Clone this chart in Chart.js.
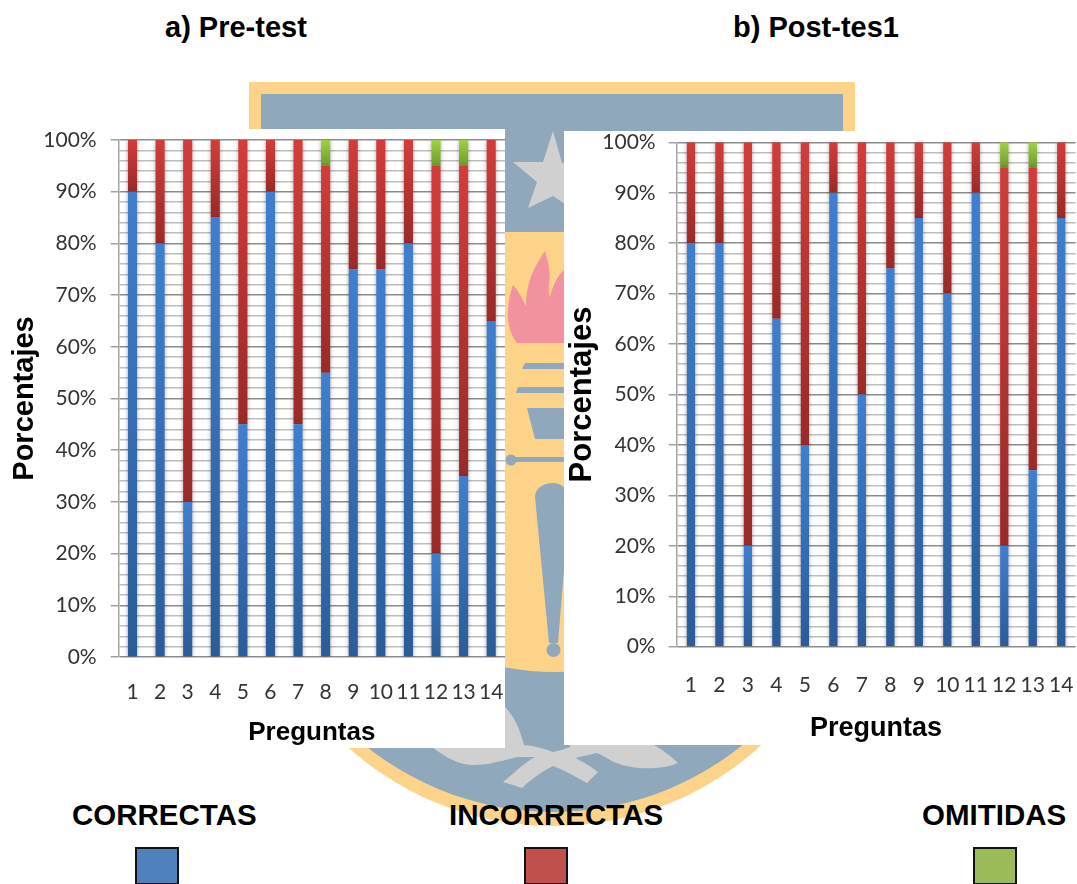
<!DOCTYPE html>
<html>
<head>
<meta charset="utf-8">
<script src="https://cdn.jsdelivr.net/npm/chart.js@4/dist/chart.umd.min.js"></script>
<style>
  html, body { margin: 0; padding: 0; background: #fff; }
  #page { position: relative; width: 1077px; height: 884px; overflow: hidden; }
  #crest { position: absolute; left: 0; top: 0; }
  .panel { position: absolute; background: #fff; }
  .panel canvas { display: block; filter: blur(0.55px); }
  .head { position: absolute; font: bold 29px "Liberation Sans", Arial, sans-serif; color: #000; white-space: nowrap; line-height: 30px; }
  .key { position: absolute; font: bold 29.5px "Liberation Sans", Arial, sans-serif; color: #000; white-space: nowrap; line-height: 32px; }
  .swatch { position: absolute; top: 847px; width: 40px; height: 34px; border: 2px solid #111; }
</style>
</head>
<body>
<div id="page">
  <!-- University crest sitting behind the two charts -->
  <svg id="crest" width="1077" height="884" viewBox="0 0 1077 884">
    <rect x="249" y="82" width="606" height="160" fill="#fdd38a"/>
    <circle cx="553.5" cy="518" r="308" fill="#fdd38a"/>
    <circle cx="553.5" cy="512" r="300" fill="#8fa8bc"/>
    <rect x="300" y="232" width="500" height="190" fill="#fdd38a"/>
    <circle cx="553.5" cy="422" r="250" fill="#fdd38a"/>
    <rect x="261" y="94" width="582" height="138" fill="#8fa8bc"/>
    <path d="M553 131 L562 163 L600 163 L570 184 L580 214 L553 196 L528 208 L537 182 L513 162 L543 162 Z" fill="#d0d0d0"/>
    <path d="M545 251 C548 262 551 272 549 285 C548 290 549 294 550 297 C553 285 558 274 566 268 L570 343 L517 343 C510 335 507 320 508 310 C509 298 511 290 513 285 C518 290 522 298 526 306 C526 285 532 270 545 251 Z" fill="#f2929e"/>
    <path d="M525 363 L570 363 L570 369 L522 369 Z M518 387 L570 387 L570 393 L516 393 Z M527 408 L570 408 L570 439 L535 439 Z" fill="#8fa8bc"/>
    <rect x="511" y="457" width="60" height="5" fill="#8fa8bc"/>
    <circle cx="511" cy="460" r="5.5" fill="#8fa8bc"/>
    <path d="M535 497 C535 488 544 483 553 483 C560 483 568 488 570 497 L558 643 L549 643 Z" fill="#8fa8bc"/>
    <circle cx="553.5" cy="650" r="7" fill="#8fa8bc"/>
    <path d="M430 745 C445 758 460 765 473 765 C490 765 505 760 517 757 L535 757 C525 762 512 775 503 782 L522 788 C532 778 545 770 553 766 C562 769 578 778 587 783 L598 772 C590 766 582 761 575 758 L597 753 C605 756 612 762 617 763 C630 769 660 771 678 763 C670 755 660 748 650 743 L570 743 L570 747 C565 749 558 751 553 752 C545 749 535 746 524 745 C520 730 515 717 505 707 L400 707 Z" fill="#d0d0d0"/>
  </svg>

  <div class="panel" style="left:0;top:129px;width:505px;height:619px"><canvas id="preChart" width="505" height="619"></canvas></div>
  <div class="panel" style="left:564px;top:131px;width:513px;height:614px"><canvas id="postChart" width="513" height="614"></canvas></div>

  <div class="head" style="left:165px;top:12px">a) Pre-test</div>
  <div class="head" style="left:733px;top:12px">b) Post-tes1</div>

  <div class="key" style="left:72px;top:799px">CORRECTAS</div>
  <div class="key" style="left:449px;top:799px">INCORRECTAS</div>
  <div class="key" style="left:922px;top:799px">OMITIDAS</div>
  <div class="swatch" style="left:135px;background:#4f81bd"></div>
  <div class="swatch" style="left:524px;background:#c0504d"></div>
  <div class="swatch" style="left:973px;background:#9bbb59"></div>
</div>

<script>
const preguntas = ["1","2","3","4","5","6","7","8","9","10","11","12","13","14"];

const preCorrectas   = [90,80,30,85,45,90,45,55,75,75,80,20,35,65];
const preIncorrectas = [10,20,70,15,55,10,55,40,25,25,20,75,60,35];
const preOmitidas    = [0,0,0,0,0,0,0,5,0,0,0,5,5,0];

const postCorrectas   = [80,80,20,65,40,90,50,75,85,70,90,20,35,85];
const postIncorrectas = [20,20,80,35,60,10,50,25,15,30,10,75,60,15];
const postOmitidas    = [0,0,0,0,0,0,0,0,0,0,0,5,5,0];

// Light end at the top of a segment, dark end at its foot
const ramps = {
  correctas:   ["#3f7fcf", "#2a5c98"],
  incorrectas: ["#d43c3a", "#992a28"],
  omitidas:    ["#a2d044", "#6e9a2a"]
};

function segmentFill(ramp) {
  return function (ctx) {
    const chart = ctx.chart;
    const yScale = chart.scales.y;
    if (!yScale || !chart.chartArea || ctx.type !== "data") return ramp[0];
    let base = 0;
    for (let i = 0; i < ctx.datasetIndex; i++) {
      base += chart.data.datasets[i].data[ctx.dataIndex];
    }
    const value = chart.data.datasets[ctx.datasetIndex].data[ctx.dataIndex];
    const top = yScale.getPixelForValue(base + value);
    const bottom = yScale.getPixelForValue(base);
    if (!(bottom > top)) return ramp[0];
    const g = chart.ctx.createLinearGradient(0, top, 0, bottom);
    g.addColorStop(0, ramp[0]);
    g.addColorStop(1, ramp[1]);
    return g;
  };
}

// Soft drop shadow under the columns
const columnShadow = {
  id: "columnShadow",
  beforeDatasetDraw(chart) {
    const c = chart.ctx;
    c.save();
    c.shadowColor = "rgba(0,0,0,0.35)";
    c.shadowBlur = 4;
    c.shadowOffsetY = 1;
  },
  afterDatasetDraw(chart) { chart.ctx.restore(); }
};

function buildChart(id, correctas, incorrectas, omitidas, box) {
  return new Chart(document.getElementById(id), {
    type: "bar",
    data: {
      labels: preguntas,
      datasets: [
        { label: "CORRECTAS", data: correctas, backgroundColor: segmentFill(ramps.correctas) },
        { label: "INCORRECTAS", data: incorrectas, backgroundColor: segmentFill(ramps.incorrectas) },
        { label: "OMITIDAS", data: omitidas, backgroundColor: segmentFill(ramps.omitidas) }
      ]
    },
    plugins: [columnShadow],
    options: {
      responsive: false,
      animation: false,
      layout: { autoPadding: false, padding: { top: box.top, right: box.right, left: 0, bottom: 0 } },
      plugins: { legend: { display: false }, tooltip: { enabled: false } },
      datasets: { bar: { barPercentage: 1, categoryPercentage: box.barShare } },
      scales: {
        x: {
          stacked: true,
          afterFit(s) {
            s.height = box.xHeight;
            s.paddingLeft = 0;
            s.paddingRight = 0;
          },
          grid: { display: false, drawTicks: false },
          border: { display: false },
          ticks: {
            color: "#333",
            padding: box.xPad,
            maxRotation: 0,
            autoSkip: false,
            font: { family: "Lato", size: 21 }
          },
          title: {
            display: true,
            text: "Preguntas",
            color: "#000",
            font: { family: "Liberation Sans", weight: "bold", size: box.xTitleSize },
            padding: { top: box.xTitlePad, bottom: 0 }
          }
        },
        y: {
          stacked: true,
          min: 0,
          max: 100,
          afterFit(s) {
            s.width = box.yWidth;
            s.paddingTop = 0;
            s.paddingBottom = 0;
          },
          border: { display: true, color: "#a5a5a5", width: 1.5 },
          grid: {
            tickLength: 8,
            lineWidth: 1.5,
            color: c => (c.tick && c.tick.value % 10 === 0) ? "#8c8c8c" : "#bdbdbd",
            tickColor: c => (c.tick && c.tick.value % 10 === 0) ? "#a0a0a0" : "rgba(0,0,0,0)"
          },
          ticks: {
            stepSize: 2,
            autoSkip: false,
            padding: box.yPad,
            color: "#333",
            font: { family: "Lato", size: 21 },
            callback: v => (v % 10 === 0 ? v + "%" : "")
          },
          title: {
            display: true,
            text: "Porcentajes",
            color: "#000",
            font: { family: "Liberation Sans", weight: "bold", size: box.yTitleSize },
            padding: { top: box.yTitlePad, bottom: 0 }
          }
        }
      }
    }
  });
}

buildChart("preChart", preCorrectas, preIncorrectas, preOmitidas,
  { top: 11, right: 0, xHeight: 91, yWidth: 118.7, barShare: 0.33, xPad: 23, xTitlePad: 10, xTitleSize: 26, yPad: 14, yTitlePad: 8, yTitleSize: 29 });
buildChart("postChart", postCorrectas, postIncorrectas, postOmitidas,
  { top: 11.3, right: 1.5, xHeight: 98.3, yWidth: 112.7, barShare: 0.29, xPad: 26, xTitlePad: 10, xTitleSize: 27, yPad: 13, yTitlePad: 0, yTitleSize: 31 });
</script>
</body>
</html>
